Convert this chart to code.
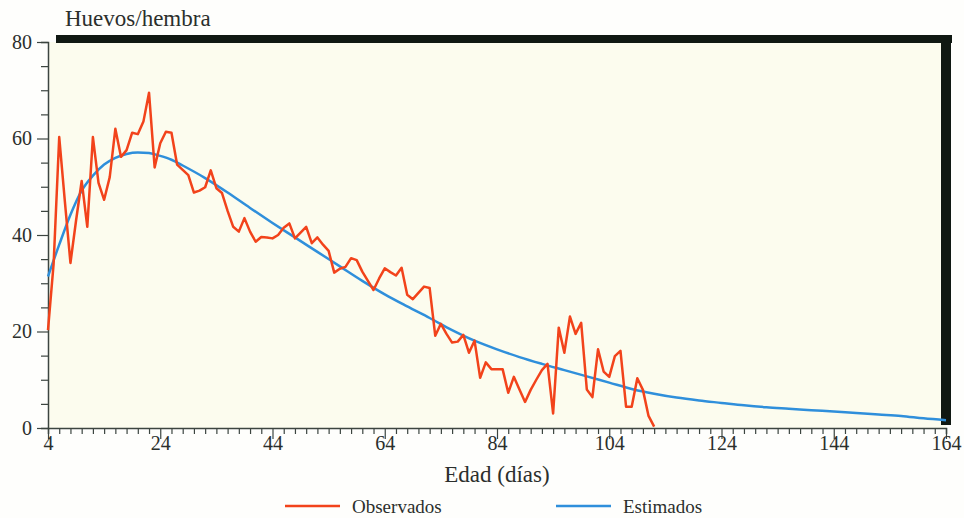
<!DOCTYPE html>
<html>
<head>
<meta charset="utf-8">
<script src="https://cdn.jsdelivr.net/npm/d3@7"></script>
<style>
  body { margin: 0; background: #fefefc; }
  svg text { font-family: "Liberation Serif", "Times New Roman", Times, "DejaVu Serif", serif !important; fill: #2b2f2c; }
</style>
</head>
<body>
<div id="chart"></div>
<script>
// observed eggs per female by age (days)
const obsDays = [4, 5, 6, 7, 8, 9, 10, 11, 12, 13, 14, 15, 16, 17, 18, 19, 20, 21, 22, 23, 24, 25, 26, 27, 28, 29, 30, 31, 32, 33, 34, 35, 36, 37, 38, 39, 40, 41, 42, 43, 44, 45, 46, 47, 48, 49, 50, 51, 52, 53, 54, 55, 56, 57, 58, 59, 60, 61, 62, 63, 64, 65, 66, 67, 68, 69, 70, 71, 72, 73, 74, 75, 76, 77, 78, 79, 80, 81, 82, 83, 84, 85, 86, 87, 88, 89, 90, 91, 92, 93, 94, 95, 96, 97, 98, 99, 100, 101, 102, 103, 104, 105, 106, 107, 108, 109, 110, 111, 112];
const obsValues = [20.3, 34, 60.3, 47, 34.2, 43, 51.2, 41.7, 60.3, 50.8, 47.3, 52, 62, 56.2, 57.6, 61.2, 60.9, 63.5, 69.5, 54, 59, 61.4, 61.2, 54.6, 53.5, 52.4, 48.8, 49.2, 49.9, 53.4, 49.7, 48.7, 45, 41.7, 40.7, 43.5, 40.7, 38.6, 39.6, 39.5, 39.3, 40, 41.5, 42.4, 39.3, 40.5, 41.7, 38.3, 39.5, 38, 36.7, 32.2, 33, 33.4, 35.2, 34.8, 32.4, 30.5, 28.6, 31, 33.1, 32.3, 31.6, 33.2, 27.6, 26.7, 28, 29.3, 29, 19.1, 21.6, 19.5, 17.7, 17.9, 19.3, 15.6, 18.1, 10.4, 13.6, 12.2, 12.2, 12.2, 7.3, 10.6, 8, 5.4, 7.9, 10, 12, 13.3, 3, 20.8, 15.6, 23.1, 19.5, 21.8, 8, 6.4, 16.3, 11.7, 10.6, 14.9, 16, 4.4, 4.4, 10.3, 7.9, 2.5, 0.3];

// estimated curve
const estDays = [4, 6, 8, 10, 12, 14, 16, 18, 20, 22, 24, 26, 28, 32, 36, 40, 44, 48, 52, 56, 60, 64, 68, 72, 76, 80, 84, 88, 92, 96, 100, 104, 108, 112, 116, 120, 124, 128, 132, 136, 140, 144, 148, 152, 156, 160, 164];
const estValues = [31.4, 38, 44.2, 49.2, 52.3, 54.6, 56, 56.8, 57.1, 57, 56.4, 55.6, 54.4, 51.8, 48.8, 45.6, 42.5, 39.5, 36.5, 33.5, 30.5, 27.7, 25.2, 22.8, 20.3, 18.1, 16.3, 14.7, 13.3, 12, 10.7, 9.4, 8.1, 7.1, 6.3, 5.7, 5.2, 4.7, 4.3, 4, 3.7, 3.4, 3.1, 2.8, 2.5, 2, 1.6];

const xTicks = [4, 24, 44, 64, 84, 104, 124, 144, 164];
const yTicks = [0, 20, 40, 60, 80];

const size = { width: 964, height: 518 };
const margin = { top: 42, right: 18, bottom: 90, left: 48 };
const serif = '"Liberation Serif", "Times New Roman", Times, "DejaVu Serif", serif';

const svg = d3
  .select("#chart")
  .append("svg")
  .attr("width", size.width)
  .attr("height", size.height)
  .attr("font-family", serif);

const x = d3
  .scaleLinear()
  .domain([4, 164])
  .range([margin.left, size.width - margin.right]);

const y = d3
  .scaleLinear()
  .domain([0, 80])
  .range([size.height - margin.bottom, margin.top]);

// plot background
svg
  .append("rect")
  .attr("x", x(4))
  .attr("y", y(80))
  .attr("width", x(164) - x(4))
  .attr("height", y(0) - y(80))
  .attr("fill", "#fcfcee");

// thick frame on top and right
svg
  .append("rect")
  .attr("x", x(4) + 8)
  .attr("y", y(80) - 7)
  .attr("width", x(164) - x(4) - 2)
  .attr("height", 8)
  .attr("fill", "#101812");
svg
  .append("rect")
  .attr("x", x(164) - 5)
  .attr("y", y(80) - 7)
  .attr("width", 10)
  .attr("height", y(0) - y(80) + 4)
  .attr("fill", "#101812");

// y axis
const yAxis = svg
  .append("g")
  .attr("transform", `translate(${x(4)}, 0)`)
  .call(
    d3
      .axisLeft(y)
      .tickValues(d3.range(0, 81, 5))
      .tickSize(7)
      .tickFormat((d) => (yTicks.includes(d) ? d : ""))
  );
yAxis.attr("font-family", serif);
yAxis.select(".domain").attr("stroke", "#3c4540").attr("stroke-width", 1.5);
yAxis.selectAll(".tick line").attr("stroke", "#3c4540").attr("stroke-width", 1.2);
yAxis
  .selectAll(".tick")
  .filter((d) => yTicks.includes(d))
  .select("line")
  .attr("x2", -11);
yAxis
  .selectAll(".tick text")
  .attr("x", -16)
  .style("font-size", "20px")
  .attr("fill", "#2b2f2c");

// x axis
const xAxis = svg
  .append("g")
  .attr("transform", `translate(0, ${y(0)})`)
  .call(
    d3
      .axisBottom(x)
      .tickValues(d3.range(4, 165, 2))
      .tickSize(6)
      .tickFormat((d) => (xTicks.includes(d) ? d : ""))
  );
xAxis.attr("font-family", serif);
xAxis.select(".domain").attr("stroke", "#3c4540").attr("stroke-width", 1.5);
xAxis.selectAll(".tick line").attr("stroke", "#3c4540").attr("stroke-width", 1.2);
xAxis
  .selectAll(".tick")
  .filter((d) => xTicks.includes(d))
  .select("line")
  .attr("y2", 11);
xAxis
  .selectAll(".tick text")
  .attr("y", 8)
  .style("font-size", "20px")
  .attr("fill", "#2b2f2c");

// estimated curve
const estData = estDays.map((d, i) => ({ day: d, val: estValues[i] }));
svg
  .append("path")
  .datum(estData)
  .attr("fill", "none")
  .attr("stroke", "#2f8fdb")
  .attr("stroke-width", 2.5)
  .attr(
    "d",
    d3
      .line()
      .curve(d3.curveMonotoneX)
      .x((d) => x(d.day))
      .y((d) => y(d.val))
  );

// observed line
const obsData = obsDays.map((d, i) => ({ day: d, val: obsValues[i] }));
svg
  .append("path")
  .datum(obsData)
  .attr("fill", "none")
  .attr("stroke", "#f2431b")
  .attr("stroke-width", 2.5)
  .attr("stroke-linejoin", "round")
  .attr(
    "d",
    d3
      .line()
      .x((d) => x(d.day))
      .y((d) => y(d.val))
  );

// titles
svg
  .append("text")
  .attr("x", 65)
  .attr("y", 26)
  .style("font-size", "23px")
  .text("Huevos/hembra");

svg
  .append("text")
  .attr("x", x(84))
  .attr("y", 482)
  .attr("text-anchor", "middle")
  .style("font-size", "23px")
  .text("Edad (días)");

// legend
const legendItems = [
  { label: "Observados", color: "#f2431b", x: 285 },
  { label: "Estimados", color: "#2f8fdb", x: 556 },
];
const legend = svg
  .append("g")
  .selectAll("g")
  .data(legendItems)
  .enter()
  .append("g")
  .attr("transform", (d) => `translate(${d.x}, 506)`);
legend
  .append("line")
  .attr("x1", 0)
  .attr("x2", 55)
  .attr("stroke", (d) => d.color)
  .attr("stroke-width", 2.5);
legend
  .append("text")
  .attr("x", 67)
  .attr("y", 0)
  .attr("dy", "0.35em")
  .style("font-size", "19px")
  .text((d) => d.label);
</script>
</body>
</html>
